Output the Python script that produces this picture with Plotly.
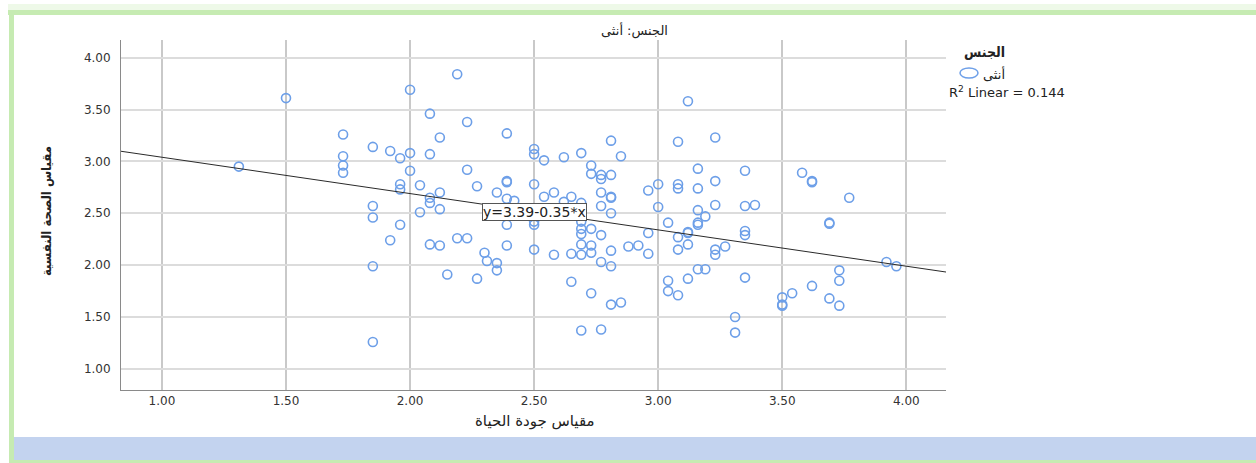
import plotly.graph_objects as go

# Quality of life score (x) and mental health score (y) per respondent (female group)
quality_of_life = [
    1.31, 1.50, 1.73, 1.73, 1.73, 1.73, 1.85, 1.85, 1.85, 1.85, 1.85, 1.92, 1.92,
    1.96, 1.96, 1.96, 1.96, 2.00, 2.00, 2.00, 2.04, 2.04, 2.08, 2.08, 2.08, 2.08,
    2.08, 2.12, 2.12, 2.12, 2.12, 2.15, 2.19, 2.19, 2.23, 2.23, 2.23, 2.27, 2.27,
    2.30, 2.31, 2.35, 2.35, 2.35, 2.39, 2.39, 2.39, 2.39, 2.39, 2.39, 2.42, 2.50,
    2.50, 2.50, 2.50, 2.50, 2.50, 2.54, 2.54, 2.58, 2.58, 2.62, 2.62, 2.65, 2.65,
    2.65, 2.69, 2.69, 2.69, 2.69, 2.69, 2.69, 2.69, 2.69, 2.73, 2.73, 2.73, 2.73,
    2.73, 2.73, 2.77, 2.77, 2.77, 2.77, 2.77, 2.77, 2.77, 2.81, 2.81, 2.81, 2.81,
    2.81, 2.81, 2.81, 2.81, 2.85, 2.85, 2.88, 2.92, 2.96, 2.96, 2.96, 3.00, 3.00,
    3.04, 3.04, 3.04, 3.12, 3.08, 3.08, 3.08, 3.08, 3.08, 3.08, 3.12, 3.12, 3.12,
    3.12, 3.16, 3.16, 3.16, 3.16, 3.16, 3.16, 3.19, 3.19, 3.23, 3.23, 3.23, 3.23,
    3.23, 3.27, 3.31, 3.31, 3.35, 3.35, 3.35, 3.35, 3.35, 3.39, 3.50, 3.50, 3.50,
    3.54, 3.58, 3.62, 3.62, 3.62, 3.69, 3.69, 3.69, 3.73, 3.73, 3.73, 3.77, 3.92,
    3.96,
]
mental_health = [
    2.95, 3.61, 3.26, 3.05, 2.96, 2.89, 3.14, 2.57, 2.46, 1.99, 1.26, 3.10, 2.24,
    3.03, 2.78, 2.73, 2.39, 3.69, 3.08, 2.91, 2.51, 2.77, 3.46, 3.07, 2.65, 2.60,
    2.20, 3.23, 2.70, 2.54, 2.19, 1.91, 3.84, 2.26, 3.38, 2.92, 2.26, 2.76, 1.87,
    2.12, 2.04, 2.70, 2.02, 1.95, 3.27, 2.81, 2.80, 2.64, 2.39, 2.19, 2.62, 3.12,
    3.07, 2.78, 2.42, 2.39, 2.15, 3.01, 2.66, 2.70, 2.10, 3.04, 2.61, 2.66, 2.11,
    1.84, 3.08, 2.60, 2.42, 2.35, 2.30, 2.20, 2.10, 1.37, 2.96, 2.88, 2.35, 2.19,
    2.12, 1.73, 2.87, 2.83, 2.70, 2.57, 2.29, 2.03, 1.38, 3.20, 2.87, 2.66, 2.65,
    2.50, 2.14, 1.99, 1.62, 3.05, 1.64, 2.18, 2.19, 2.72, 2.31, 2.11, 2.78, 2.56,
    2.41, 1.85, 1.75, 3.58, 3.19, 2.78, 2.74, 2.27, 2.15, 1.71, 2.32, 2.31, 2.20,
    1.87, 2.93, 2.74, 2.53, 2.41, 2.39, 1.96, 2.47, 1.96, 3.23, 2.81, 2.58, 2.15,
    2.10, 2.18, 1.50, 1.35, 2.91, 2.57, 2.33, 2.29, 1.88, 2.58, 1.69, 1.62, 1.61,
    1.73, 2.89, 2.81, 2.80, 1.80, 2.41, 2.40, 1.68, 1.95, 1.85, 1.61, 2.65, 2.03,
    1.99,
]

# Linear fit reported for the group
intercept = 3.39
slope = -0.35
r_squared = 0.144

x_ticks = [1.0, 1.5, 2.0, 2.5, 3.0, 3.5, 4.0]
y_ticks = [1.0, 1.5, 2.0, 2.5, 3.0, 3.5, 4.0]
x_range = [0.835, 4.16]
y_range = [0.797, 4.17]

W, H = 1256, 463
L, R, T, B = 121, 946, 40, 390  # plot area bounds in pixels


def px(x):
    return (x - L) / (R - L)


def py(y):
    return (B - y) / (B - T)


marker_blue = "#6d9fe8"
num_font = "DejaVu Sans, Liberation Sans, Arial"
ar_font = "DejaVu Sans, Arial"
ar_cond = "DejaVu Sans Condensed, DejaVu Sans, Arial"

fig = go.Figure()

fig.add_trace(go.Scatter(
    x=quality_of_life, y=mental_health, mode="markers",
    marker=dict(symbol="circle-open", size=9, color=marker_blue,
                line=dict(width=1.6, color=marker_blue)),
    showlegend=False, hoverinfo="x+y",
))

fit_x = x_range
fit_y = [intercept + slope * v for v in fit_x]
fig.add_trace(go.Scatter(
    x=fit_x, y=fit_y, mode="lines",
    line=dict(color="#2a2a2a", width=1),
    showlegend=False, hoverinfo="skip",
))

shapes = [
    # decorative frame
    dict(type="rect", xref="paper", yref="paper", x0=px(8), x1=px(1256),
         y0=py(4), y1=py(10), fillcolor="#eef9e8", line=dict(width=0), layer="below"),
    dict(type="rect", xref="paper", yref="paper", x0=px(8), x1=px(1256),
         y0=py(10), y1=py(15), fillcolor="#c6ebb2", line=dict(width=0), layer="below"),
    dict(type="rect", xref="paper", yref="paper", x0=px(9), x1=px(14),
         y0=py(10), y1=py(463), fillcolor="#c6ebb2", line=dict(width=0), layer="below"),
    dict(type="rect", xref="paper", yref="paper", x0=px(14), x1=px(1256),
         y0=py(437), y1=py(460), fillcolor="#c3d3ef", line=dict(width=0), layer="below"),
    dict(type="rect", xref="paper", yref="paper", x0=px(14), x1=px(1256),
         y0=py(460), y1=py(463), fillcolor="#c6ebb2", line=dict(width=0), layer="below"),
    # legend symbol
    dict(type="circle", xref="paper", yref="paper", x0=px(960), x1=px(978),
         y0=py(68), y1=py(78), line=dict(color=marker_blue, width=1.5)),
]

eq_text = "y=%.2f-%.2f*x" % (intercept, abs(slope))
annotations = [
    dict(text="الجنس: أنثى", xref="paper", yref="paper", x=px(634), y=py(30),
         showarrow=False, font=dict(size=13, color="#222", family=ar_font),
         xanchor="center", yanchor="middle"),
    dict(text="<b>الجنس</b>", xref="paper", yref="paper", x=px(1007), y=py(52),
         showarrow=False, font=dict(size=14, color="#222", family=ar_cond),
         xanchor="right", yanchor="middle"),
    dict(text="أنثى", xref="paper", yref="paper", x=px(981), y=py(74),
         showarrow=False, font=dict(size=13, color="#222", family=ar_font),
         xanchor="left", yanchor="middle"),
    dict(text="R<sup>2</sup> Linear = %.3f" % r_squared, xref="paper", yref="paper",
         x=px(947), y=py(92), showarrow=False,
         font=dict(size=13, color="#222", family=num_font),
         xanchor="left", yanchor="middle"),
    dict(text="مقياس جودة الحياة", xref="paper", yref="paper", x=px(535), y=py(421),
         showarrow=False, font=dict(size=15, color="#222", family=ar_font),
         xanchor="center", yanchor="middle"),
    dict(text="<b>مقياس الصحة النفسية</b>", xref="paper", yref="paper", x=px(46), y=py(211),
         showarrow=False, textangle=-90, font=dict(size=13, color="#222", family=ar_cond),
         xanchor="center", yanchor="middle"),
    dict(text=eq_text, x=2.5, y=intercept + slope * 2.5, xref="x", yref="y",
         showarrow=False, font=dict(size=14, color="#222", family=num_font),
         bgcolor="white", bordercolor="#555", borderwidth=1, borderpad=0,
         xanchor="center", yanchor="middle"),
]

fig.update_layout(
    width=W, height=H,
    margin=dict(l=L, r=W - R, t=T, b=H - B, pad=0),
    paper_bgcolor="white", plot_bgcolor="white",
    shapes=shapes, annotations=annotations,
    showlegend=False,
    xaxis=dict(range=x_range, tickvals=x_ticks, tickformat=".2f",
               showgrid=True, gridcolor="#c9c9c9", gridwidth=1.6,
               showline=True, linecolor="#8a8a8a", linewidth=1,
               zeroline=False, ticks="", ticklabelstandoff=0,
               tickfont=dict(size=12, color="#333", family=num_font)),
    yaxis=dict(range=y_range, tickvals=y_ticks, tickformat=".2f",
               showgrid=True, gridcolor="#dcdcdc", gridwidth=1.6,
               showline=True, linecolor="#8a8a8a", linewidth=1,
               zeroline=False, ticks="", ticklabelstandoff=7,
               tickfont=dict(size=12, color="#333", family=num_font)),
)

fig.write_html("out.html")
